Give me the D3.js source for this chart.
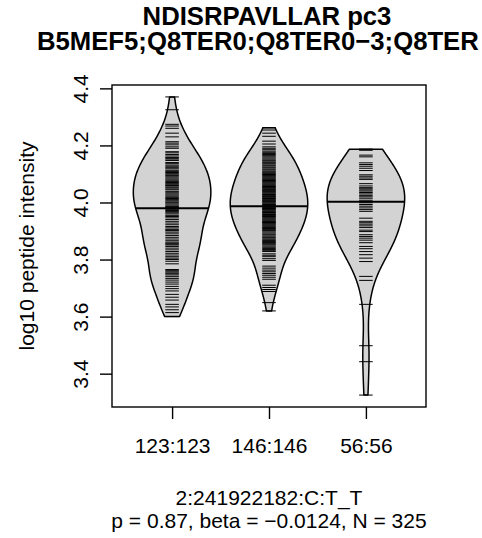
<!DOCTYPE html>
<html><head><meta charset="utf-8">
<script src="https://cdn.jsdelivr.net/npm/d3@7"></script>
<style>body{margin:0;background:#fff} svg{display:block} text{font-family:"Liberation Sans",Arial,sans-serif;fill:#000}</style>
</head><body><svg id="c" width="482" height="538"></svg>
<script>
const categories = ["123:123", "146:146", "56:56"];
const group1 = [
  4.370, 4.325,
  4.274, 4.268, 4.260,
  4.243, 4.230, 4.213, 4.208, 4.202,
  4.195, 4.190, 4.178, 4.174, 4.168, 4.163, 4.158, 4.155, 4.152,
  4.147, 4.140, 4.136, 4.131, 4.127, 4.122, 4.118, 4.113, 4.109, 4.105, 4.101,
  4.097, 4.094, 4.090, 4.086, 4.082, 4.078, 4.074, 4.070, 4.066, 4.062, 4.060, 4.058, 4.054, 4.051,
  4.047, 4.044, 4.038, 4.034, 4.030, 4.026, 4.022, 4.018, 4.014, 4.010, 4.006, 4.002,
  3.999, 3.995, 3.991, 3.987, 3.985, 3.983, 3.980, 3.976, 3.972, 3.968, 3.964, 3.960, 3.955, 3.951,
  3.946, 3.940, 3.934, 3.928, 3.922, 3.916, 3.911, 3.906, 3.903, 3.901,
  3.896, 3.890, 3.884, 3.878, 3.872, 3.866, 3.861, 3.857, 3.854, 3.851,
  3.846, 3.840, 3.834, 3.828, 3.822, 3.816, 3.810, 3.805, 3.800,
  3.794, 3.785, 3.765, 3.761, 3.757, 3.753, 3.750,
  3.746, 3.740, 3.734, 3.728, 3.721, 3.714, 3.706,
  3.698, 3.690, 3.678, 3.668, 3.658,
  3.643, 3.634, 3.624, 3.614, 3.600
];
const group2 = [
  4.262, 4.254,
  4.243, 4.232, 4.215, 4.205,
  4.195, 4.190, 4.185, 4.180, 4.176, 4.172, 4.168, 4.164, 4.160, 4.156, 4.152,
  4.148, 4.145, 4.141, 4.138, 4.135, 4.131, 4.128, 4.124, 4.121, 4.117, 4.114, 4.110, 4.107, 4.104, 4.101,
  4.098, 4.095, 4.092, 4.089, 4.086, 4.083, 4.080, 4.077, 4.074, 4.071, 4.068, 4.065, 4.062, 4.059, 4.056, 4.053, 4.051,
  4.048, 4.046, 4.043, 4.041, 4.038, 4.036, 4.033, 4.030, 4.028, 4.025, 4.022, 4.020, 4.019, 4.016, 4.014, 4.011, 4.008, 4.006, 4.003, 4.001,
  3.998, 3.995, 3.993, 3.990, 3.987, 3.985, 3.982, 3.980, 3.979, 3.976, 3.974, 3.971, 3.968, 3.965, 3.963, 3.960, 3.958, 3.955, 3.953, 3.951,
  3.948, 3.945, 3.942, 3.939, 3.936, 3.933, 3.930, 3.930, 3.927, 3.924, 3.921, 3.918, 3.915, 3.912, 3.909, 3.906, 3.903, 3.901,
  3.897, 3.893, 3.889, 3.886, 3.882, 3.878, 3.875, 3.871, 3.867, 3.863, 3.860, 3.857, 3.854, 3.851,
  3.847, 3.843, 3.839, 3.835, 3.831, 3.828, 3.820, 3.815, 3.810, 3.803,
  3.797, 3.777, 3.770, 3.763, 3.757, 3.751,
  3.745, 3.738, 3.731, 3.710, 3.702,
  3.695, 3.688,
  3.649, 3.620
];
const group3 = [
  4.187, 4.183, 4.166, 4.160,
  4.139, 4.133, 4.127, 4.120, 4.112,
  4.097, 4.092, 4.086, 4.081, 4.066, 4.058, 4.052,
  4.048, 4.044, 4.040, 4.035, 4.030, 4.025, 4.020, 4.015, 4.008,
  3.999, 3.993, 3.987, 3.981, 3.975, 3.969,
  3.945, 3.934, 3.929, 3.924, 3.918, 3.912, 3.903,
  3.898, 3.887, 3.881, 3.875, 3.868, 3.859,
  3.846, 3.838, 3.828, 3.817,
  3.805, 3.793,
  3.741, 3.727,
  3.643,
  3.498, 3.442, 3.325
];
const beanLines = [3.980, 3.987, 4.003];
const bandwidths = [0.048, 0.048, 0.075];
const yTicks = [3.4, 3.6, 3.8, 4.0, 4.2, 4.4];
const titleLines = ["NDISRPAVLLAR pc3", "B5MEF5;Q8TER0;Q8TER0\u22123;Q8TER"];
const subLines = ["2:241922182:C:T_T", "p = 0.87, beta = \u22120.0124, N = 325"];
const yLabel = "log10 peptide intensity";

const groups = [group1, group2, group3];
const svg = d3.select("#c");
const L = 112, R = 426, T = 85, B = 407;

const all = groups.flat();
const [mn, mx] = d3.extent(all);
const pad = (mx - mn) * 0.04;
const y = d3.scaleLinear().domain([mn - pad, mx + pad]).range([B, T]);
const x = d3.scaleLinear().domain([0.5 - 0.12, 3.5 + 0.12]).range([L, R]);

function densAt(data, bw, v) {
  return d3.mean(data, d => Math.exp(-0.5 * ((v - d) / bw) ** 2));
}
function kde(data, bw, n) {
  const [lo, hi] = d3.extent(data);
  return d3.range(n).map(i => {
    const v = lo + (hi - lo) * i / (n - 1);
    return [v, densAt(data, bw, v)];
  });
}

const g = svg.append("g");
groups.forEach((data, i) => {
  const pos = i + 1;
  const bw = bandwidths[i];
  const dens = kde(data, bw, 300);
  const maxD = d3.max(dens, d => d[1]);
  const half = d => 0.4 * d / maxD;
  const area = d3.area()
    .y(d => y(d[0]))
    .x0(d => x(pos - half(d[1])))
    .x1(d => x(pos + half(d[1])));
  g.append("path").attr("d", area(dens))
    .attr("fill", "#d3d3d3").attr("stroke", "#000").attr("stroke-width", 1.5)
    .attr("stroke-linejoin", "round");
  g.append("g").selectAll("line").data(data).join("line")
    .attr("x1", x(pos - 0.07)).attr("x2", x(pos + 0.07))
    .attr("y1", d => y(d)).attr("y2", d => y(d))
    .attr("stroke", "#000").attr("stroke-width", 1);
  const bl = beanLines[i];
  const hw = half(densAt(data, bw, bl));
  g.append("line")
    .attr("x1", x(pos - hw)).attr("x2", x(pos + hw))
    .attr("y1", y(bl)).attr("y2", y(bl))
    .attr("stroke", "#000").attr("stroke-width", 2);
});

// box
svg.append("rect").attr("x", L).attr("y", T).attr("width", R - L).attr("height", B - T)
  .attr("fill", "none").attr("stroke", "#000").attr("stroke-width", 1.4);

// y axis
const ya = svg.append("g").attr("transform", `translate(${L},0)`)
  .call(d3.axisLeft(y).tickValues(yTicks).tickSize(12).tickFormat(d3.format(".1f")));
ya.select(".domain").remove();
ya.selectAll(".tick line").attr("stroke", "#000").attr("stroke-width", 1.4);
ya.selectAll(".tick text").attr("x", null).attr("dy", null)
  .attr("transform", "translate(-24,0) rotate(-90)")
  .attr("text-anchor", "middle").attr("font-size", 21).attr("font-family", null);

// x axis
const xa = svg.append("g").attr("transform", `translate(0,${B})`)
  .call(d3.axisBottom(x).tickValues([1, 2, 3]).tickSize(12).tickFormat(i => categories[i - 1]));
xa.select(".domain").remove();
xa.selectAll(".tick line").attr("stroke", "#000").attr("stroke-width", 1.4);
xa.selectAll(".tick text").attr("y", 46).attr("dy", null)
  .attr("font-size", 21).attr("font-family", null);

const cx = (L + R) / 2;
svg.append("text").attr("x", cx - 2).attr("y", 24.5)
  .attr("text-anchor", "middle").attr("font-size", 25.7).attr("font-weight", "bold")
  .text(titleLines[0]);
svg.append("text").attr("x", 37).attr("y", 50)
  .attr("text-anchor", "start").attr("font-size", 25.7).attr("font-weight", "bold")
  .text(titleLines[1]);
svg.append("g").selectAll("text").data(subLines).join("text")
  .attr("x", cx).attr("y", (d, i) => 505 + i * 23)
  .attr("text-anchor", "middle").attr("font-size", 21)
  .text(d => d);
svg.append("text").attr("transform", `translate(34,${(T + B) / 2}) rotate(-90)`)
  .attr("text-anchor", "middle").attr("font-size", 21).text(yLabel);
</script></body></html>
